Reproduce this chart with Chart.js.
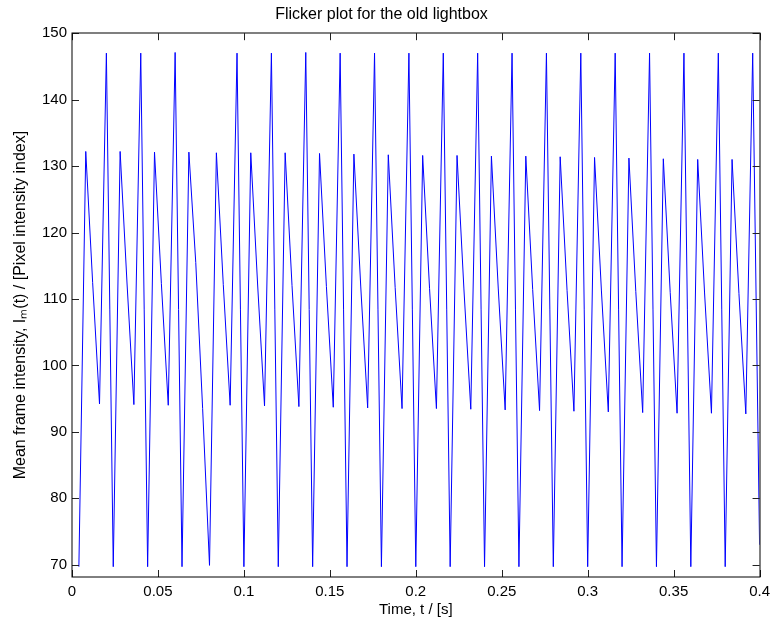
<!DOCTYPE html>
<html>
<head>
<meta charset="utf-8">
<script src="https://cdn.jsdelivr.net/npm/chart.js@4.4.1/dist/chart.umd.min.js"></script>
<style>
  html, body { margin: 0; padding: 0; background: #fff; }
  canvas { display: block; }
</style>
</head>
<body>
<canvas id="flickerChart" width="776" height="626"></canvas>
<script>
// frame times (s) and mean frame intensity
const timeS = [
    0.004, 0.008, 0.012, 0.016, 0.020, 0.024, 0.028, 0.032, 0.036, 0.040,
    0.044, 0.048, 0.052, 0.056, 0.060, 0.064, 0.068, 0.072, 0.076, 0.080,
    0.084, 0.088, 0.092, 0.096, 0.100, 0.104, 0.108, 0.112, 0.116, 0.120,
    0.124, 0.128, 0.132, 0.136, 0.140, 0.144, 0.148, 0.152, 0.156, 0.160,
    0.164, 0.168, 0.172, 0.176, 0.180, 0.184, 0.188, 0.192, 0.196, 0.200,
    0.204, 0.208, 0.212, 0.216, 0.220, 0.224, 0.228, 0.232, 0.236, 0.240,
    0.244, 0.248, 0.252, 0.256, 0.260, 0.264, 0.268, 0.272, 0.276, 0.280,
    0.284, 0.288, 0.292, 0.296, 0.300, 0.304, 0.308, 0.312, 0.316, 0.320,
    0.324, 0.328, 0.332, 0.336, 0.340, 0.344, 0.348, 0.352, 0.356, 0.360,
    0.364, 0.368, 0.372, 0.376, 0.380, 0.384, 0.388, 0.392, 0.396, 0.400
];
const meanIntensity = [
    69.7, 132.2, 112.5, 94.2, 147.0, 69.7, 132.2, 112.4, 94.1, 147.0,
    69.7, 132.1, 112.3, 94.0, 147.1, 69.7, 132.1, 115.5, 93.5, 69.9,
    132.0, 112.2, 94.0, 147.0, 69.7, 132.0, 112.1, 93.9, 147.0, 69.7,
    132.0, 112.0, 93.8, 147.1, 69.7, 131.9, 111.9, 93.7, 147.0, 69.7,
    131.8, 111.8, 93.6, 147.0, 69.7, 131.7, 111.7, 93.5, 147.0, 69.7,
    131.6, 111.6, 93.5, 147.0, 69.7, 131.6, 111.5, 93.4, 147.0, 69.7,
    131.5, 111.5, 93.3, 147.0, 69.7, 131.5, 111.4, 93.2, 147.0, 69.7,
    131.4, 111.3, 93.1, 147.0, 69.7, 131.3, 111.2, 93.0, 147.0, 69.7,
    131.2, 111.1, 92.9, 147.0, 69.7, 131.1, 111.0, 92.8, 147.0, 69.7,
    131.0, 110.9, 92.8, 147.0, 69.7, 131.0, 110.8, 92.7, 147.0, 73.0
];
const xTickValues = [0, 0.05, 0.1, 0.15, 0.2, 0.25, 0.3, 0.35, 0.4];
const xTickLabels = ["0", "0.05", "0.1", "0.15", "0.2", "0.25", "0.3", "0.35", "0.4"];
const yTickValues = [70, 80, 90, 100, 110, 120, 130, 140, 150];

Chart.defaults.font.family = '"Liberation Sans", Arial, Helvetica, sans-serif';
Chart.defaults.color = "#000";

// matlab style box with inward ticks on all four sides
const boxTicks = {
    id: "boxTicks",
    afterDraw(chart) {
        const { ctx, chartArea: a, scales } = chart;
        const len = 7;
        ctx.save();
        ctx.lineWidth = 1;
        ctx.strokeStyle = "#222";
        ctx.beginPath();
        scales.x.ticks.forEach((t) => {
            const px = Math.round(scales.x.getPixelForValue(t.value)) + 0.5;
            ctx.moveTo(px, a.bottom);
            ctx.lineTo(px, a.bottom - len);
            ctx.moveTo(px, a.top);
            ctx.lineTo(px, a.top + len);
        });
        scales.y.ticks.forEach((t) => {
            const py = Math.round(scales.y.getPixelForValue(t.value)) + 0.5;
            ctx.moveTo(a.left, py);
            ctx.lineTo(a.left + len, py);
            ctx.moveTo(a.right, py);
            ctx.lineTo(a.right - len, py);
        });
        ctx.stroke();
        ctx.strokeStyle = "#000";
        ctx.strokeRect(Math.round(a.left), Math.round(a.top),
            Math.round(a.right) - Math.round(a.left), Math.round(a.bottom) - Math.round(a.top));
        ctx.restore();
    },
};

new Chart(document.getElementById("flickerChart"), {
    type: "line",
    data: {
        datasets: [
            {
                data: timeS.map((t, i) => ({ x: t, y: meanIntensity[i] })),
                borderColor: "#0000ff",
                borderWidth: 1,
                pointRadius: 0,
                tension: 0,
                fill: false,
            },
        ],
    },
    options: {
        responsive: false,
        animation: false,
        layout: { padding: { left: 0, right: 13, top: 0, bottom: 0 } },
        plugins: {
            legend: { display: false },
            tooltip: { enabled: false },
            title: {
                display: true,
                text: "Flicker plot for the old lightbox",
                color: "#000",
                font: { size: 16, weight: "normal" },
                padding: { top: 5, bottom: 9 },
            },
        },
        scales: {
            x: {
                type: "linear",
                min: 0,
                max: 0.4,
                afterBuildTicks: (scale) => {
                    scale.ticks = xTickValues.map((v) => ({ value: v }));
                },
                afterFit: (scale) => {
                    scale.height = 49;
                },
                ticks: {
                    autoSkip: false,
                    maxRotation: 0,
                    padding: 6,
                    font: { size: 15 },
                    callback: (value) => xTickLabels[xTickValues.indexOf(value)],
                },
                grid: { display: false, drawTicks: false },
                border: { display: false },
                title: {
                    display: true,
                    text: "Time, t / [s]",
                    font: { size: 15 },
                    padding: { top: 0, bottom: 7 },
                },
            },
            y: {
                min: 68.15,
                max: 150,
                afterBuildTicks: (scale) => {
                    scale.ticks = yTickValues.map((v) => ({ value: v }));
                },
                afterFit: (scale) => {
                    scale.width = 72;
                },
                ticks: {
                    autoSkip: false,
                    padding: 5,
                    font: { size: 15 },
                },
                grid: { display: false, drawTicks: false },
                border: { display: false },
                title: {
                    display: true,
                    text: "Mean frame intensity, I\u2098(t) / [Pixel intensity index]",
                    font: { size: 16 },
                    padding: { top: 10.5, bottom: 0 },
                },
            },
        },
    },
    plugins: [boxTicks],
});
</script>
</body>
</html>
